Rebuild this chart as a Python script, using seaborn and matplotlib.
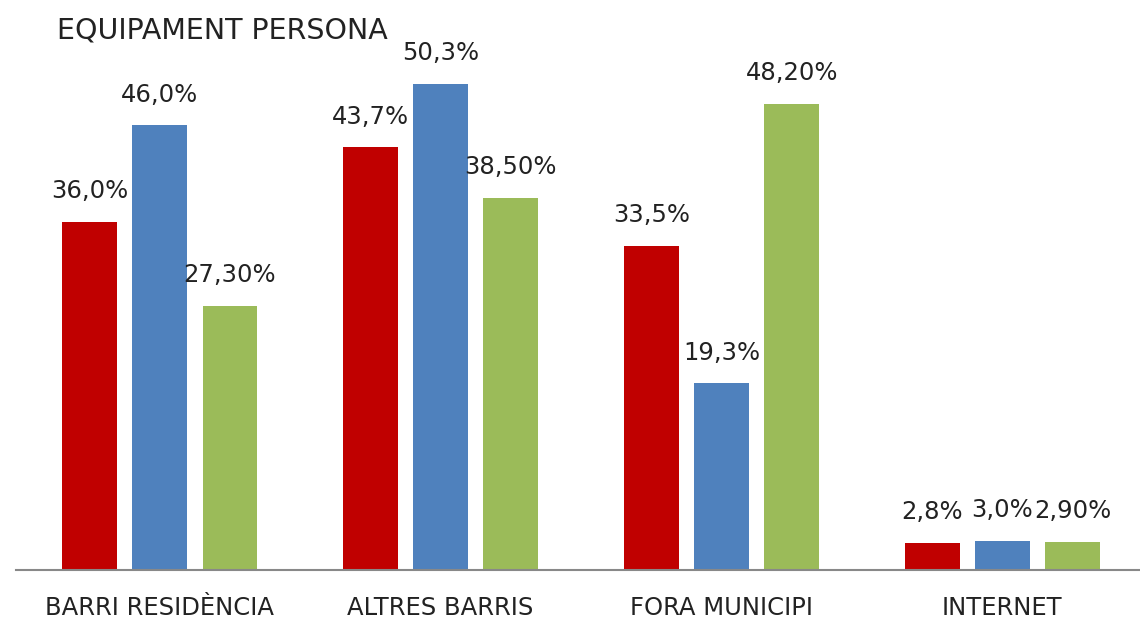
import matplotlib
matplotlib.use("Agg")
import matplotlib.pyplot as plt
import seaborn as sns
import pandas as pd

# data
categories = ["BARRI RESIDÈNCIA", "ALTRES BARRIS", "FORA MUNICIPI", "INTERNET"]
series_names = ["S1", "S2", "S3"]
values_s1 = [36.0, 43.7, 33.5, 2.8]
values_s2 = [46.0, 50.3, 19.3, 3.0]
values_s3 = [27.3, 38.5, 48.2, 2.9]
labels_s1 = ["36,0%", "43,7%", "33,5%", "2,8%"]
labels_s2 = ["46,0%", "50,3%", "19,3%", "3,0%"]
labels_s3 = ["27,30%", "38,50%", "48,20%", "2,90%"]
colors = ["#C00000", "#4F81BD", "#9BBB59"]

rows = []
for name, vals, labs in zip(series_names, [values_s1, values_s2, values_s3],
                            [labels_s1, labels_s2, labels_s3]):
    for cat, v, lab in zip(categories, vals, labs):
        rows.append({"cat": cat, "serie": name, "value": v, "label": lab})
df = pd.DataFrame(rows)

sns.set_style("white")
plt.rcParams["font.family"] = ["DejaVu Sans"]

fig = plt.figure(figsize=(11.4, 6.24), dpi=100)
ax = fig.add_axes([16 / 1140, 54 / 624, 1 - 16 / 1140, 1 - 54 / 624])

sns.barplot(data=df, x="cat", y="value", hue="serie", palette=colors,
            order=categories, hue_order=series_names, width=0.75, gap=0.22,
            legend=False, ax=ax, saturation=1, linewidth=0)

# value labels above each bar
for container, labs in zip(ax.containers, [labels_s1, labels_s2, labels_s3]):
    for bar, lab in zip(container, labs):
        ax.annotate(lab, (bar.get_x() + bar.get_width() / 2, bar.get_height()),
                    xytext=(0, 22), textcoords="offset points",
                    ha="center", va="center", fontsize=17.5, color="#222222")

ax.set_xlim(-0.512, 3.49)
ax.set_ylim(0, 570 / 9.67)
ax.set_xlabel("")
ax.set_ylabel("")
ax.set_yticks([])
ax.tick_params(axis="x", length=0, pad=19, labelsize=17.5, labelcolor="#222222")
for side in ["top", "right", "left"]:
    ax.spines[side].set_visible(False)
ax.spines["bottom"].set_color("#888888")
ax.spines["bottom"].set_linewidth(1.5)

fig.text(57 / 1140, 1 - 31 / 624, "EQUIPAMENT PERSONA", fontsize=20.5,
         va="center", ha="left", color="#222222")

fig.savefig("out.png", dpi=100)
